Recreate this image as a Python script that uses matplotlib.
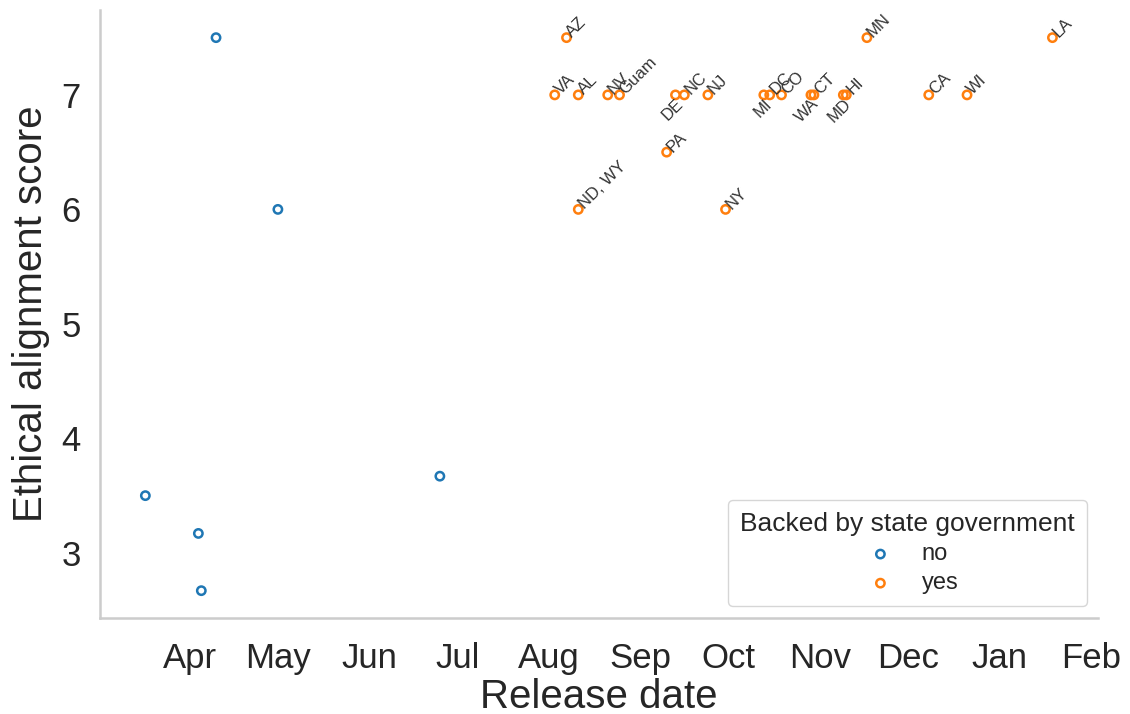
import matplotlib
matplotlib.use("Agg")
import matplotlib.pyplot as plt
import matplotlib.dates as mdates
import pandas as pd

plt.rcParams['font.family'] = ['Liberation Sans', 'DejaVu Sans']

# Not backed by state government
no_dates = ["2020-03-17", "2020-04-04", "2020-04-05", "2020-04-10", "2020-05-01", "2020-06-25"]
no_scores = [3.5, 3.17, 2.67, 7.5, 6.0, 3.67]

# Backed by state government
yes_labels = ["AZ", "VA", "AL", "NV", "Guam", "DE", "NC", "NJ", "MI", "DC", "CO",
              "WA", "CT", "MD", "HI", "MN", "CA", "WI", "LA", "PA", "ND, WY", "NY"]
yes_dates = ["2020-08-07", "2020-08-03", "2020-08-11", "2020-08-21", "2020-08-25",
             "2020-09-13", "2020-09-16", "2020-09-24", "2020-10-13", "2020-10-15",
             "2020-10-19", "2020-10-29", "2020-10-30", "2020-11-09", "2020-11-10",
             "2020-11-17", "2020-12-08", "2020-12-21", "2021-01-19", "2020-09-10",
             "2020-08-11", "2020-09-30"]
yes_scores = [7.5, 7, 7, 7, 7, 7, 7, 7, 7, 7, 7, 7, 7, 7, 7, 7.5, 7, 7, 7.5, 6.5, 6, 6]
# labels drawn on the lower-left side of their point
left_labels = ["DE", "MI", "WA", "MD"]

legend_title = "Backed by state government"
x_label = "Release date"
y_label = "Ethical alignment score"

blue = "#1f77b4"
orange = "#ff7f0e"

fig = plt.figure(figsize=(11.3, 7.14), dpi=100)
ax = fig.add_axes([0.0885, 0.134, 0.883, 0.852])

nd = pd.to_datetime(no_dates)
yd = pd.to_datetime(yes_dates)
ax.scatter(nd, no_scores, s=36, facecolors='none', edgecolors=blue, linewidths=1.8, label="no")
ax.scatter(yd, yes_scores, s=36, facecolors='none', edgecolors=orange, linewidths=1.8, label="yes")

for lab, d, s in zip(yes_labels, yd, yes_scores):
    if lab in left_labels:
        ax.annotate(lab, (mdates.date2num(d), s), xytext=(0, -1), textcoords='offset points',
                    rotation=45, rotation_mode='anchor', ha='right', va='top',
                    fontsize=12, color='#333333')
    else:
        ax.annotate(lab, (mdates.date2num(d), s), xytext=(2, 2), textcoords='offset points',
                    rotation=45, rotation_mode='anchor', ha='left', va='center',
                    fontsize=12, color='#333333')

ax.xaxis.set_major_locator(mdates.MonthLocator())
ax.xaxis.set_major_formatter(mdates.DateFormatter('%b'))
ax.set_yticks([3, 4, 5, 6, 7])
ax.tick_params(axis='both', length=0, labelsize=25, colors='#262626')
ax.tick_params(axis='x', pad=17)
ax.tick_params(axis='y', pad=14)

for sp in ['top', 'right']:
    ax.spines[sp].set_visible(False)
for sp in ['left', 'bottom']:
    ax.spines[sp].set_color('#cccccc')
    ax.spines[sp].set_linewidth(1.8)

ax.set_xlabel(x_label, fontsize=29, color='#262626', labelpad=2)
ax.set_ylabel(y_label, fontsize=29, color='#262626', labelpad=8)

leg = ax.legend(title=legend_title, loc='lower right', fontsize=17, title_fontsize=19,
                frameon=True, markerscale=1.0, handletextpad=0.75,
                bbox_to_anchor=(0.989, 0.02), borderaxespad=0, borderpad=0.5,
                labelspacing=0.3)
leg.get_frame().set_edgecolor('#cccccc')
leg.get_title().set_color('#262626')
for t in leg.get_texts():
    t.set_color('#262626')
leg._legend_box.align = "center"

fig.savefig("out.png", dpi=100)
